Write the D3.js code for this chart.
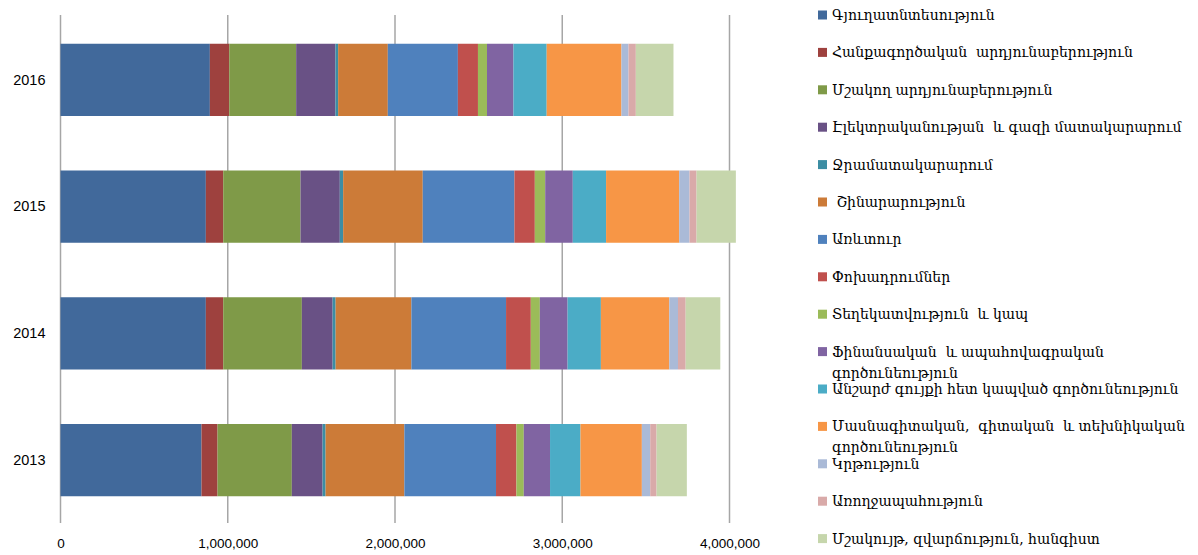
<!DOCTYPE html>
<html>
<head>
<meta charset="utf-8">
<script src="https://cdn.jsdelivr.net/npm/d3@7"></script>
<style>
  html, body { margin: 0; padding: 0; background: #fff; }
  svg { display: block; }
</style>
</head>
<body>
<svg id="chart" width="1198" height="555"></svg>
<script>
// Years, top to bottom
const years = ["2016", "2015", "2014", "2013"];

// Sectors (stack order, left to right)
const sectors = [
  "Գյուղատնտեսություն",
  "Հանքագործական  արդյունաբերություն",
  "Մշակող արդյունաբերություն",
  "Էլեկտրականության  և գազի մատակարարում",
  "Ջրամատակարարում",
  " Շինարարություն",
  "Առևտուր",
  "Փոխադրումներ",
  "Տեղեկատվություն  և կապ",
  "Ֆինանսական  և ապահովագրական գործունեություն",
  "Անշարժ գույքի հետ կապված գործունեություն",
  "Մասնագիտական,  գիտական  և տեխնիկական գործունեություն",
  "Կրթություն",
  "Առողջապահություն",
  "Մշակույթ, զվարճություն, հանգիստ"
];

// Values per sector, in the same order as `years`
const agriculture   = [893000, 869000, 869000, 843000];
const mining        = [116000, 104000, 104000,  96000];
const manufacturing = [400000, 462000, 470000, 444000];
const electricity   = [235000, 235000, 184000, 184000];
const water         = [ 16000,  20000,  18000,  18000];
const construction  = [297000, 476000, 453000, 471000];
const trade         = [419000, 548000, 566000, 548000];
const transport     = [120000, 122000, 148000, 122000];
const information   = [ 54000,  62000,  54000,  44000];
const finance       = [158000, 165000, 166000, 157000];
const realEstate    = [199000, 199000, 199000, 182000];
const professional  = [447000, 437000, 409000, 367000];
const education     = [ 42000,  62000,  52000,  50000];
const health        = [ 44000,  42000,  46000,  38000];
const recreation    = [225000, 235000, 207000, 181000];

const seriesValues = [agriculture, mining, manufacturing, electricity, water,
  construction, trade, transport, information, finance, realEstate,
  professional, education, health, recreation];

// Tick values for the value axis
const ticks = [0, 1000000, 2000000, 3000000, 4000000];

const colors = ["#41699b", "#9e413e", "#7f9a48", "#695185", "#3c8da3",
  "#cc7b38", "#4f81bd", "#c0504d", "#9bbb59", "#8064a2", "#4bacc6",
  "#f79646", "#aabad7", "#d9aaa9", "#c6d6ac"];

// Build rows for d3.stack
const rows = years.map((y, i) => {
  const r = { year: y };
  sectors.forEach((s, k) => { r[s] = seriesValues[k][i]; });
  return r;
});
const stacked = d3.stack().keys(sectors)(rows);

const svg = d3.select("#chart");
const left = 60.5;
const x = d3.scaleLinear().domain([0, 4000000]).range([left, 729.5]);
const y = d3.scaleBand().domain(years).range([16.5, 523.5]).paddingInner(0.43).paddingOuter(0.215);
const color = d3.scaleOrdinal().domain(sectors).range(colors);

// Vertical gridlines
svg.append("g").selectAll("line").data(ticks).join("line")
  .attr("x1", d => x(d)).attr("x2", d => x(d))
  .attr("y1", 15).attr("y2", 523)
  .attr("stroke", "#a6a6a6").attr("stroke-width", 1.5);

// Stacked bars
svg.append("g").selectAll("g").data(stacked).join("g")
  .attr("fill", d => color(d.key))
  .selectAll("rect").data(d => d).join("rect")
  .attr("x", d => x(d[0]))
  .attr("width", d => x(d[1]) - x(d[0]))
  .attr("y", d => y(d.data.year))
  .attr("height", y.bandwidth());

// Value axis labels
const xAxis = d3.axisBottom(x).tickValues(ticks).tickSize(0).tickPadding(0)
  .tickFormat(d3.format(","));
const gx = svg.append("g").attr("transform", "translate(0,538)").call(xAxis);
gx.select(".domain").remove();
gx.selectAll("text").attr("font-family", "'Liberation Sans', Arial, sans-serif")
  .attr("font-size", 13.5).attr("fill", "#000");

// Category axis labels
const yAxis = d3.axisLeft(y).tickSize(0).tickPadding(15);
const gy = svg.append("g").attr("transform", `translate(${left},0)`).call(yAxis);
gy.select(".domain").remove();
gy.selectAll("text").attr("font-family", "'Liberation Sans', Arial, sans-serif")
  .attr("font-size", 14.5).attr("fill", "#000");

// Legend
const legend = svg.append("g").attr("transform", "translate(818,0)");
const rowStep = 37.4;
const items = legend.selectAll("g").data(sectors).join("g")
  .attr("transform", (d, i) => `translate(0,${15 + i * rowStep})`);
items.append("rect").attr("x", 0).attr("y", -4.5).attr("width", 9).attr("height", 9)
  .attr("fill", d => color(d));
const wrapped = {
  "Ֆինանսական  և ապահովագրական գործունեություն": ["Ֆինանսական  և ապահովագրական", "գործունեություն"],
  "Մասնագիտական,  գիտական  և տեխնիկական գործունեություն": ["Մասնագիտական,  գիտական  և տեխնիկական", "գործունեություն"]
};
items.append("text")
  .attr("x", 14).attr("y", 5)
  .attr("font-family", "'DejaVu Serif', 'DejaVu Sans', serif")
  .attr("font-size", 14).attr("fill", "#000")
  .style("white-space", "pre")
  .each(function(d) {
    const lines = wrapped[d] || [d];
    d3.select(this).selectAll("tspan").data(lines).join("tspan")
      .attr("x", 14).attr("dy", (l, j) => j === 0 ? 0 : 21)
      .text(l => l);
  });
</script>
</body>
</html>
